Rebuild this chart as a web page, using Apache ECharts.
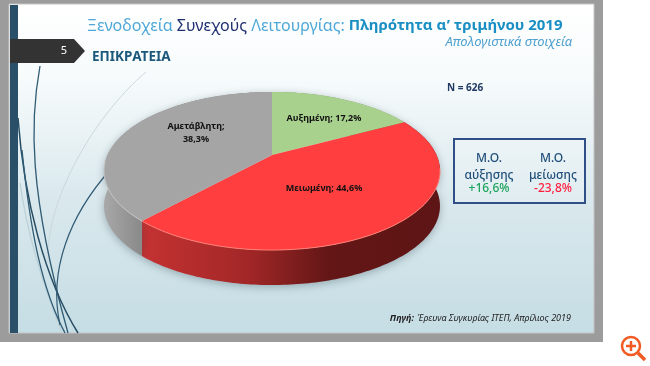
<!DOCTYPE html>
<html>
<head>
<meta charset="utf-8">
<style>
  html, body { margin: 0; padding: 0; background: #fff; }
  #chart { width: 650px; height: 366px; }
</style>
<script src="https://cdn.jsdelivr.net/npm/echarts@6/dist/echarts.min.js"></script>
</head>
<body>
<div id="chart"></div>
<script>
// data
const categories = ['Αυξημένη', 'Μειωμένη', 'Αμετάβλητη'];
const shares = [17.2, 44.6, 38.3];
const shareLabels = ['Αυξημένη; 17,2%', 'Μειωμένη; 44,6%', 'Αμετάβλητη;\n38,3%'];
const boxHeads = ['Μ.Ο.\nαύξησης', 'Μ.Ο.\nμείωσης'];
const boxValues = ['+16,6%', '-23,8%'];

// pie layout: top face is a circle seen in perspective
const apex = [272, 155];
const spanX = 164.5, spanY = 75.8, tilt = -0.2025, depth = 35;
const labelAt = [[324, 118], [324, 188], [196, 133]];
const topColors = ['#a9d18e', '#ff3f3f', '#a5a5a5'];
const total = shares.reduce((a, b) => a + b, 0);

function rimPoint(deg, dy) {
  const a = deg * Math.PI / 180;
  const u = Math.sin(a), v = -Math.cos(a);
  const w = 1 + tilt * v;
  return [apex[0] + spanX * u / w, apex[1] + spanY * v / w + (dy || 0)];
}
function sectorRange(idx) {
  let before = 0;
  for (let i = 0; i < idx; i++) before += shares[i];
  return [before / total * 360, (before + shares[idx]) / total * 360];
}
function rimArc(from, to, dy) {
  const pts = [];
  for (let d = from; d < to; d += 1) pts.push(rimPoint(d, dy));
  pts.push(rimPoint(to, dy));
  return pts;
}

const wallFills = [
  '#7d9c68',
  { type: 'linear', global: true, x: 144, y: 0, x2: 440, y2: 0, colorStops: [
    { offset: 0, color: '#c43232' }, { offset: 0.35, color: '#a32727' },
    { offset: 0.62, color: '#641616' }, { offset: 1, color: '#5e1515' }] },
  { type: 'linear', global: true, x: 104, y: 0, x2: 146, y2: 0, colorStops: [
    { offset: 0, color: '#a8a8a8' }, { offset: 1, color: '#868686' }] }
];

function renderWall(params, api) {
  const idx = params.dataIndex;
  const r = sectorRange(idx);
  const top = rimArc(r[0], r[1], 0);
  const bottom = rimArc(r[0], r[1], depth).reverse();
  return {
    type: 'polygon',
    shape: { points: top.concat(bottom) },
    style: { fill: wallFills[idx], shadowBlur: 8, shadowColor: 'rgba(40,60,70,0.35)', shadowOffsetY: 2 }
  };
}
function renderTop(params, api) {
  const idx = params.dataIndex;
  const r = sectorRange(idx);
  const pts = [apex].concat(rimArc(r[0], r[1], 0));
  return {
    type: 'group',
    children: [
      { type: 'polygon', shape: { points: pts }, style: { fill: topColors[idx] } },
      { type: 'polyline', shape: { points: rimArc(Math.max(r[0], 100), Math.min(r[1], 265), 0) },
        style: { fill: null, stroke: idx === 1 ? '#ff8078' : '#c6c6c6', lineWidth: idx === 0 ? 0 : 1 } },
      { type: 'text', x: labelAt[idx][0], y: labelAt[idx][1],
        style: { text: shareLabels[idx], align: 'center', verticalAlign: 'middle', fill: '#111',
          font: 'bold 9px "Noto Sans"', lineHeight: 13 } }
    ]
  };
}

const slideFill = { type: 'linear', x: 0, y: 0, x2: 0, y2: 1, colorStops: [
  { offset: 0, color: '#ffffff' }, { offset: 0.22, color: '#f7fbfc' },
  { offset: 0.6, color: '#d9e8ed' }, { offset: 1, color: '#c5dde4' }] };

function curve(x1, y1, cx1, cy1, cx2, cy2, x2, y2, color, width) {
  return { type: 'bezierCurve',
    shape: { x1: x1, y1: y1, cpx1: cx1, cpy1: cy1, cpx2: cx2, cpy2: cy2, x2: x2, y2: y2 },
    style: { fill: null, stroke: color, lineWidth: width } };
}
function txt(x, y, text, font, fill, align, lh) {
  return { type: 'text', x: x, y: y,
    style: { text: text, font: font, fill: fill, align: align || 'left', verticalAlign: 'middle', lineHeight: lh || 16 } };
}

const decor = [
  { type: 'rect', shape: { x: 0, y: 0, width: 603, height: 342 }, style: { fill: '#9c9c9c' } },
  { type: 'rect', shape: { x: 9, y: 4, width: 585, height: 329 }, style: { fill: slideFill, stroke: '#c4c4c4', lineWidth: 1 } },
  { type: 'rect', shape: { x: 10, y: 5, width: 8, height: 328 }, style: { fill: '#2a5069' } },
  curve(146, 72, 95, 115, 45, 200, 48, 262, '#ccd8dc', 1),
  curve(20, 183, 28, 240, 45, 290, 62, 333, '#bfd3da', 1.5),
  curve(40, 66, 30, 120, 28, 190, 68, 333, '#2f5a73', 1.3),
  curve(18, 118, 24, 200, 45, 280, 78, 333, '#264c63', 1.5),
  curve(22, 150, 30, 230, 42, 290, 65, 333, '#2f5a73', 1.3),
  curve(110, 170, 70, 215, 48, 270, 60, 325, '#2f5a73', 1.2),
  { type: 'polygon', shape: { points: [[10, 39], [74, 39], [85, 51], [74, 63], [10, 63]] }, style: { fill: '#333333' } },
  txt(64, 51, '5', '11px "Noto Sans"', '#ffffff', 'center'),
  { type: 'text', x: 87, y: 26, style: { verticalAlign: 'middle',
    text: '{a|Ξενοδοχεία }{b|Συνεχούς }{a|Λειτουργίας: }{c|Πληρότητα α’ τριμήνου 2019}',
    rich: {
      a: { font: '16px "Noto Sans"', fill: '#4fa8d8' },
      b: { font: '16px "Noto Sans"', fill: '#1f3070' },
      c: { font: 'bold 15px "Noto Sans"', fill: '#1a8fc4' }
    } } },
  txt(572, 42, 'Απολογιστικά στοιχεία', 'italic 13px "Noto Sans"', '#4fa0d0', 'right'),
  txt(92, 57, 'ΕΠΙΚΡΑΤΕΙΑ', 'bold 13.5px "Noto Sans"', '#1b587c'),
  txt(447, 88, 'N = 626', 'bold 10px "Noto Sans"', '#1f3864'),
  { type: 'rect', shape: { x: 454, y: 139, width: 131, height: 64 }, style: { fill: 'rgba(255,255,255,0.2)', stroke: '#2f4f86', lineWidth: 2 } },
  txt(489, 167, boxHeads[0], '500 12px "Noto Sans"', '#1f4e79', 'center', 17),
  txt(553, 167, boxHeads[1], '500 12px "Noto Sans"', '#1f4e79', 'center', 17),
  txt(489, 189, boxValues[0], '500 12px "Noto Sans"', '#1aa35a', 'center'),
  txt(553, 189, boxValues[1], '500 12px "Noto Sans"', '#ff2040', 'center'),
  { type: 'text', x: 571, y: 318, style: { align: 'right', verticalAlign: 'middle',
    text: '{b|Πηγή:} {a|Έρευνα Συγκυρίας ΙΤΕΠ, Απρίλιος 2019}',
    rich: {
      a: { font: 'italic 9px "Noto Sans"', fill: '#222' },
      b: { font: 'italic bold 9px "Noto Sans"', fill: '#222' }
    } } },
  { type: 'circle', shape: { cx: 631, cy: 346, r: 9 }, style: { fill: '#fff', stroke: '#f15a22', lineWidth: 2.5 } },
  { type: 'line', shape: { x1: 638, y1: 353, x2: 645, y2: 360 }, style: { stroke: '#f15a22', lineWidth: 3.5 } },
  { type: 'line', shape: { x1: 626, y1: 346, x2: 636, y2: 346 }, style: { stroke: '#f15a22', lineWidth: 2.5 } },
  { type: 'line', shape: { x1: 631, y1: 341, x2: 631, y2: 351 }, style: { stroke: '#f15a22', lineWidth: 2.5 } }
];

const chart = echarts.init(document.getElementById('chart'));
const rows = categories.map((c, i) => ({ name: c, value: shares[i] }));
chart.setOption({
  animation: false,
  graphic: { elements: decor.map(e => Object.assign({ z: -10, silent: true }, e)) },
  series: [
    { type: 'custom', coordinateSystem: 'none', z: 2, renderItem: renderWall, data: rows },
    { type: 'custom', coordinateSystem: 'none', z: 3, renderItem: renderTop, data: rows }
  ]
});
</script>
</body>
</html>
